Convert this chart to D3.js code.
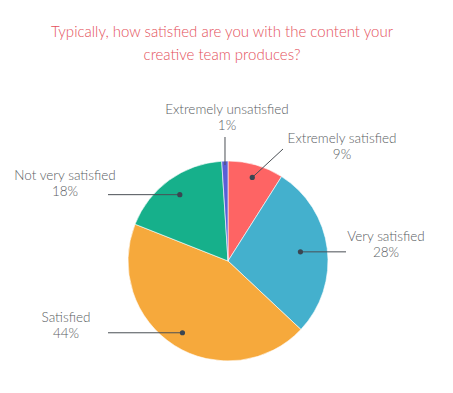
<!DOCTYPE html>
<html>
  <head>
    <meta charset="utf-8">
    <title>Satisfaction</title>
    <script src="https://d3js.org/d3.v7.min.js"></script>
    <style>
      body { margin: 0; background: #ffffff; }
      text { font-family: Lato, "Open Sans", sans-serif; }
    </style>
  </head>
  <body>
    <script>
      // data
      var categories = ["Extremely satisfied", "Very satisfied", "Satisfied", "Not very satisfied", "Extremely unsatisfied"];
      var values = [9, 28, 44, 18, 1];
      var colors = ["#fe6464", "#44b0cd", "#f6a93c", "#16b08b", "#5a5fd6"];
      var titleLines = ["Typically, how satisfied are you with the content your", "creative team produces?"];

      // label layout: where each label text sits, and where its leader line starts
      var labelLayout = [
        {tx: 342, ty: 143, lx: 283, ly: 149, dotR: 87},
        {tx: 386, ty: 241, lx: 346, ly: null, dotR: 73},
        {tx: 66, ty: 322, lx: 108, ly: null, dotR: 85},
        {tx: 65, ty: 180, lx: 108, ly: null, dotR: 82},
        {tx: 227, ty: 114, lx: null, ly: 137, dotR: 96}
      ];

      var width = 453, height = 393;
      var cx = 228, cy = 261, radius = 100;

      var svg = d3.select("body").append("svg")
        .attr("width", width)
        .attr("height", height);

      svg.selectAll(".title")
        .data(titleLines)
        .enter().append("text")
        .attr("class", "title")
        .attr("x", 222)
        .attr("y", function(d, i) { return 37 + i * 23; })
        .attr("text-anchor", "middle")
        .style("font-size", "15px")
        .style("font-weight", 300)
        .attr("fill", "#e4505a")
        .text(function(d) { return d; });

      var pie = d3.pie().sort(null).value(function(d) { return d; });
      var arcs = pie(values);
      var arc = d3.arc().innerRadius(0).outerRadius(radius);

      var g = svg.append("g").attr("transform", "translate(" + cx + "," + cy + ")");

      g.selectAll("path")
        .data(arcs)
        .enter().append("path")
        .attr("d", arc)
        .attr("fill", function(d, i) { return colors[i]; })
        .attr("stroke", "#ffffff")
        .attr("stroke-width", 0.6);

      // leader lines + dots
      arcs.forEach(function(d, i) {
        var L = labelLayout[i];
        var c = d3.arc().innerRadius(L.dotR).outerRadius(L.dotR).centroid(d);
        var px = cx + c[0], py = cy + c[1];
        var x2 = L.lx == null ? px : L.lx;
        var y2 = L.ly == null ? py : L.ly;
        svg.append("line")
          .attr("x1", px).attr("y1", py)
          .attr("x2", x2).attr("y2", y2)
          .attr("stroke", "#4a4f55")
          .attr("stroke-width", 1);
        if (i !== 4) {
          svg.append("circle")
            .attr("cx", px).attr("cy", py)
            .attr("r", 2.6)
            .attr("fill", "#3a4652");
        }
        var t = svg.append("text")
          .attr("x", L.tx)
          .attr("y", L.ty)
          .attr("text-anchor", "middle")
          .style("font-size", "13.5px")
          .style("font-weight", 300)
          .attr("fill", "#5a5e63");
        t.append("tspan").attr("x", L.tx).text(categories[i]);
        t.append("tspan").attr("x", L.tx).attr("dy", 15.5).text(values[i] + "%");
      });
    </script>
  </body>
</html>
